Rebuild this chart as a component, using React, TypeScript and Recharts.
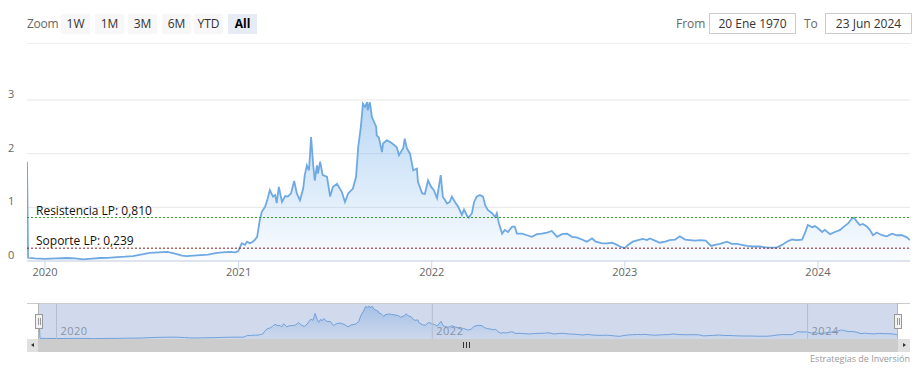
import React from "react";
import { AreaChart, Area, XAxis, YAxis, CartesianGrid, ReferenceLine } from "recharts";

const dates = [
  "2019-11-28","2019-11-30","2019-12-13","2020-01-01","2020-01-22","2020-02-12","2020-02-27","2020-03-13","2020-03-30","2020-04-14",
  "2020-04-29","2020-05-16","2020-05-31","2020-06-15","2020-06-30","2020-07-17","2020-08-02","2020-08-19","2020-08-28","2020-09-06",
  "2020-09-16","2020-09-25","2020-10-07","2020-10-20","2020-11-04","2020-11-21","2020-12-02","2020-12-16","2020-12-25","2020-12-31",
  "2021-01-07","2021-01-13","2021-01-17","2021-01-22","2021-01-28","2021-02-01","2021-02-05","2021-02-10","2021-02-14","2021-02-20",
  "2021-02-24","2021-03-01","2021-03-07","2021-03-11","2021-03-14","2021-03-18","2021-03-24","2021-03-30","2021-04-04","2021-04-10",
  "2021-04-16","2021-04-21","2021-04-27","2021-05-03","2021-05-06","2021-05-10","2021-05-14","2021-05-18","2021-05-22","2021-05-25",
  "2021-05-29","2021-05-31","2021-06-04","2021-06-09","2021-06-17","2021-06-23","2021-06-28","2021-07-06","2021-07-15","2021-07-21",
  "2021-07-27","2021-08-05","2021-08-11","2021-08-15","2021-08-20","2021-08-24","2021-08-28","2021-09-01","2021-09-02","2021-09-06",
  "2021-09-10","2021-09-14","2021-09-18","2021-09-19","2021-09-23","2021-09-29","2021-10-01","2021-10-08","2021-10-14","2021-10-22",
  "2021-10-27","2021-10-31","2021-11-08","2021-11-11","2021-11-15","2021-11-21","2021-11-27","2021-12-04","2021-12-06","2021-12-14",
  "2021-12-19","2021-12-25","2021-12-31","2022-01-05","2022-01-11","2022-01-18","2022-01-22","2022-01-30","2022-02-04","2022-02-08",
  "2022-02-14","2022-02-20","2022-02-27","2022-03-03","2022-03-09","2022-03-12","2022-03-18","2022-03-22","2022-03-27","2022-04-02",
  "2022-04-08","2022-04-12","2022-04-17","2022-04-25","2022-05-01","2022-05-04","2022-05-08","2022-05-14","2022-05-19","2022-05-25",
  "2022-06-02","2022-06-07","2022-06-11","2022-06-21","2022-06-30","2022-07-09","2022-07-19","2022-07-28","2022-08-07","2022-08-16",
  "2022-08-26","2022-09-04","2022-09-14","2022-09-23","2022-10-02","2022-10-12","2022-10-21","2022-10-31","2022-11-07","2022-11-19",
  "2022-11-28","2022-12-08","2022-12-17","2022-12-23","2023-01-01","2023-01-07","2023-01-16","2023-01-26","2023-02-04","2023-02-12",
  "2023-02-17","2023-02-27","2023-03-08","2023-03-18","2023-03-27","2023-04-06","2023-04-15","2023-04-25","2023-05-04","2023-05-14",
  "2023-05-23","2023-06-03","2023-06-13","2023-06-20","2023-06-30","2023-07-13","2023-07-22","2023-08-01","2023-08-10","2023-08-20",
  "2023-08-31","2023-09-13","2023-09-27","2023-10-15","2023-10-25","2023-11-03","2023-11-13","2023-11-22","2023-12-02","2023-12-07",
  "2023-12-13","2023-12-21","2023-12-26","2024-01-01","2024-01-09","2024-01-14","2024-01-24","2024-02-02","2024-02-12","2024-02-19",
  "2024-02-27","2024-03-05","2024-03-09","2024-03-15","2024-03-20","2024-03-26","2024-04-03","2024-04-08","2024-04-14","2024-04-21",
  "2024-05-01","2024-05-10","2024-05-20","2024-05-29","2024-06-08","2024-06-17","2024-06-23"
];

const prices = [
  1.85,0.06,0.05,0.04,0.05,0.056,0.05,0.03,0.045,0.056,
  0.06,0.074,0.08,0.09,0.12,0.15,0.16,0.17,0.15,0.13,
  0.1,0.09,0.1,0.11,0.12,0.15,0.16,0.17,0.16,0.18,
  0.33,0.3,0.36,0.33,0.36,0.4,0.45,0.76,0.92,1.01,
  1.13,1.32,1.2,1.23,1.08,1.38,1.1,1.21,1.2,1.26,
  1.49,1.26,1.13,1.35,1.6,1.78,1.69,2.31,1.78,1.5,
  1.78,1.63,1.85,1.6,1.57,1.2,1.38,1.44,1.29,1.1,
  1.26,1.35,1.57,2.12,2.5,2.93,2.87,2.96,2.81,2.96,
  2.68,2.59,2.5,2.34,2.3,2.03,2.19,2.25,2.22,2.16,
  2.12,1.97,2.1,2.28,2.1,2.0,1.69,1.72,1.47,1.26,
  1.25,1.5,1.38,1.32,1.17,1.6,1.2,1.07,1.1,1.2,
  1.1,1.01,0.86,0.96,0.84,0.81,0.89,1.1,1.2,1.23,
  1.2,1.04,0.95,0.89,0.82,0.89,0.7,0.51,0.58,0.54,
  0.64,0.64,0.51,0.51,0.48,0.45,0.5,0.51,0.53,0.56,
  0.45,0.5,0.51,0.45,0.44,0.4,0.36,0.42,0.36,0.33,
  0.33,0.34,0.3,0.27,0.24,0.3,0.36,0.39,0.41,0.39,
  0.42,0.38,0.34,0.36,0.39,0.4,0.46,0.4,0.39,0.38,
  0.39,0.38,0.28,0.3,0.32,0.36,0.32,0.32,0.3,0.28,
  0.27,0.27,0.25,0.25,0.3,0.36,0.4,0.39,0.4,0.51,
  0.67,0.63,0.65,0.61,0.54,0.58,0.5,0.54,0.58,0.64,
  0.7,0.79,0.81,0.73,0.67,0.69,0.64,0.58,0.48,0.53,
  0.48,0.46,0.51,0.48,0.48,0.44,0.39
];

const yTicks = [0, 1, 2, 3];
const mainYearTicks = ["2020-01-01", "2021-01-01", "2022-01-01", "2023-01-01", "2024-01-01"];
const navYearTicks = ["2020-01-01", "2022-01-01", "2024-01-01"];
const domainStart = "2019-11-28";
const domainEnd = "2024-06-23";
const resistance = 0.81;
const support = 0.239;
const resistanceLabel = "Resistencia LP: 0,810";
const supportLabel = "Soporte LP: 0,239";
const zoomButtons = ["1W", "1M", "3M", "6M", "YTD", "All"];
const fromDate = "20 Ene 1970";
const toDate = "23 Jun 2024";
const creditText = "Estrategias de Inversión";

const ts = (d: string) => Date.parse(d + "T00:00:00Z");
const data = dates.map((d, i) => ({ t: ts(d), v: prices[i] }));
const xDomain = [ts(domainStart), ts(domainEnd)];

const FONT = "'Open Sans', 'DejaVu Sans', sans-serif";

const RefLabel = (props: any) => {
  const { viewBox, text } = props;
  if (!viewBox) return null;
  return (
    <text x={viewBox.x + 9} y={viewBox.y - 3} fontSize={12} fill="#111" fontFamily={FONT}>
      {text}
    </text>
  );
};

const NavYearLabel = (props: any) => {
  const { viewBox, text } = props;
  if (!viewBox) return null;
  return (
    <text x={viewBox.x + 4} y={viewBox.y + viewBox.height - 4} fontSize={11} fill="#999" fontFamily={FONT} letterSpacing={0.5}>
      {text}
    </text>
  );
};

const YTick = (props: any) => (
  <text x={8} y={props.y - 2} fontSize={11} fill="#666" fontFamily={FONT}>
    {props.payload.value}
  </text>
);

const XTick = (props: any) => (
  <text x={props.x} y={276} fontSize={11} fill="#666" textAnchor="middle" fontFamily={FONT}>
    {new Date(props.payload.value).getUTCFullYear()}
  </text>
);

export default function App() {
  const btnLeft = [61, 95, 128, 162, 194, 228];
  return (
    <div style={{ position: "absolute", left: 0, top: 0, width: 922, height: 370, background: "#fff", fontFamily: FONT, overflow: "hidden" }}>
      {/* range selector */}
      <div style={{ position: "absolute", left: 27, top: 14, height: 20, lineHeight: "20px", fontSize: 12, color: "#666", letterSpacing: -0.3 }}>Zoom</div>
      {zoomButtons.map((b, i) => (
        <div
          key={b}
          style={{
            position: "absolute",
            left: btnLeft[i],
            top: 14,
            width: 29,
            height: 20,
            lineHeight: "20px",
            textAlign: "center",
            fontSize: 12,
            background: b === "All" ? "#e6ebf5" : "#f7f7f7",
            color: b === "All" ? "#000" : "#333",
            fontWeight: b === "All" ? 700 : 400,
          }}
        >
          {b}
        </div>
      ))}
      <div style={{ position: "absolute", left: 676, top: 14, height: 20, lineHeight: "20px", fontSize: 12, color: "#666" }}>From</div>
      <div style={{ position: "absolute", left: 709, top: 13, width: 85, height: 19, lineHeight: "19px", textAlign: "center", fontSize: 12, color: "#333", border: "1px solid #ccc" }}>{fromDate}</div>
      <div style={{ position: "absolute", left: 804, top: 14, height: 20, lineHeight: "20px", fontSize: 12, color: "#666" }}>To</div>
      <div style={{ position: "absolute", left: 825, top: 13, width: 85, height: 19, lineHeight: "19px", textAlign: "center", fontSize: 12, color: "#333", border: "1px solid #ccc" }}>{toDate}</div>
      <div style={{ position: "absolute", left: 27, top: 43, width: 883, height: 1, background: "#efefef" }} />

      {/* main chart */}
      <div style={{ position: "absolute", left: 0, top: 0 }}>
        <AreaChart width={922} height={290} data={data} margin={{ top: 100, right: 12, bottom: 9, left: 0 }}>
          <defs>
            <linearGradient id="mainFill" x1="0" y1="0" x2="0" y2="1">
              <stop offset="0%" stopColor="#7cb5ec" stopOpacity={0.88} />
              <stop offset="100%" stopColor="#7cb5ec" stopOpacity={0.07} />
            </linearGradient>
          </defs>
          <CartesianGrid vertical={false} stroke="#e6e6e6" />
          <XAxis
            dataKey="t"
            type="number"
            domain={xDomain}
            allowDataOverflow
            ticks={mainYearTicks.map(ts)}
            interval={0}
            tick={<XTick />}
            tickSize={8}
            height={20}
            axisLine={{ stroke: "#ccd6eb" }}
            tickLine={{ stroke: "#ccd6eb" }}
          />
          <YAxis
            type="number"
            domain={[0, 3]}
            ticks={yTicks}
            interval={0}
            width={27}
            axisLine={false}
            tickLine={false}
            tick={<YTick />}
          />
          <Area
            type="linear"
            dataKey="v"
            stroke="#6fa9e3"
            strokeWidth={1.8}
            fill="url(#mainFill)"
            isAnimationActive={false}
            dot={false}
            activeDot={false}
          />
          <ReferenceLine y={resistance} stroke="#2f9a2f" strokeDasharray="2 2" label={<RefLabel text={resistanceLabel} />} />
          <ReferenceLine y={support} stroke="#8b1a1a" strokeDasharray="2 2" label={<RefLabel text={supportLabel} />} />
        </AreaChart>
      </div>

      {/* navigator */}
      <div style={{ position: "absolute", left: 0, top: 303 }}>
        <AreaChart width={922} height={36} data={data} margin={{ top: 0, right: 25, bottom: 0, left: 39 }}>
          <defs>
            <linearGradient id="navFill" x1="0" y1="0" x2="0" y2="1">
              <stop offset="0%" stopColor="#7cb5ec" stopOpacity={0.8} />
              <stop offset="100%" stopColor="#7cb5ec" stopOpacity={0.05} />
            </linearGradient>
          </defs>
          <XAxis dataKey="t" type="number" domain={xDomain} allowDataOverflow hide />
          <YAxis type="number" domain={[0, 3.25]} hide />
          {navYearTicks.map((d) => (
            <ReferenceLine
              key={d}
              x={ts(d)}
              stroke="#d6d6d6"
              label={<NavYearLabel text={String(new Date(ts(d)).getUTCFullYear())} />}
            />
          ))}
          <Area
            type="linear"
            dataKey="v"
            stroke="#74ade6"
            strokeWidth={1}
            fill="url(#navFill)"
            isAnimationActive={false}
            dot={false}
            activeDot={false}
          />
        </AreaChart>
      </div>
      {/* navigator mask & outline */}
      <div style={{ position: "absolute", left: 39, top: 303, width: 858, height: 36, background: "rgba(102,133,194,0.3)" }} />
      <div style={{ position: "absolute", left: 27, top: 303, width: 883, height: 1, background: "#cccccc" }} />
      <div style={{ position: "absolute", left: 38, top: 303, width: 1, height: 36, background: "#b5b5b5" }} />
      <div style={{ position: "absolute", left: 897, top: 303, width: 1, height: 36, background: "#b5b5b5" }} />
      {/* handles */}
      {[35, 894].map((l) => (
        <div key={l} style={{ position: "absolute", left: l, top: 314, width: 6, height: 13, background: "#f2f2f2", border: "1px solid #999" }}>
          <div style={{ position: "absolute", left: 1.5, top: 3, width: 1, height: 7, background: "#999" }} />
          <div style={{ position: "absolute", left: 3.5, top: 3, width: 1, height: 7, background: "#999" }} />
        </div>
      ))}
      {/* scrollbar */}
      <div style={{ position: "absolute", left: 27, top: 339, width: 883, height: 13, background: "#cccccc" }} />
      <div style={{ position: "absolute", left: 27, top: 339, width: 11, height: 13, background: "#e0e0e0" }}>
        <div style={{ position: "absolute", left: 4, top: 4, width: 0, height: 0, borderTop: "2.5px solid transparent", borderBottom: "2.5px solid transparent", borderRight: "3px solid #333" }} />
      </div>
      <div style={{ position: "absolute", left: 898, top: 339, width: 12, height: 13, background: "#e0e0e0" }}>
        <div style={{ position: "absolute", left: 5, top: 4, width: 0, height: 0, borderTop: "2.5px solid transparent", borderBottom: "2.5px solid transparent", borderLeft: "3px solid #333" }} />
      </div>
      {[463, 466, 469].map((l) => (
        <div key={l} style={{ position: "absolute", left: l, top: 342, width: 1, height: 6, background: "#333" }} />
      ))}
      {/* credits */}
      <div style={{ position: "absolute", right: 12, top: 353, fontSize: 9, color: "#999", lineHeight: "12px" }}>{creditText}</div>
    </div>
  );
}
